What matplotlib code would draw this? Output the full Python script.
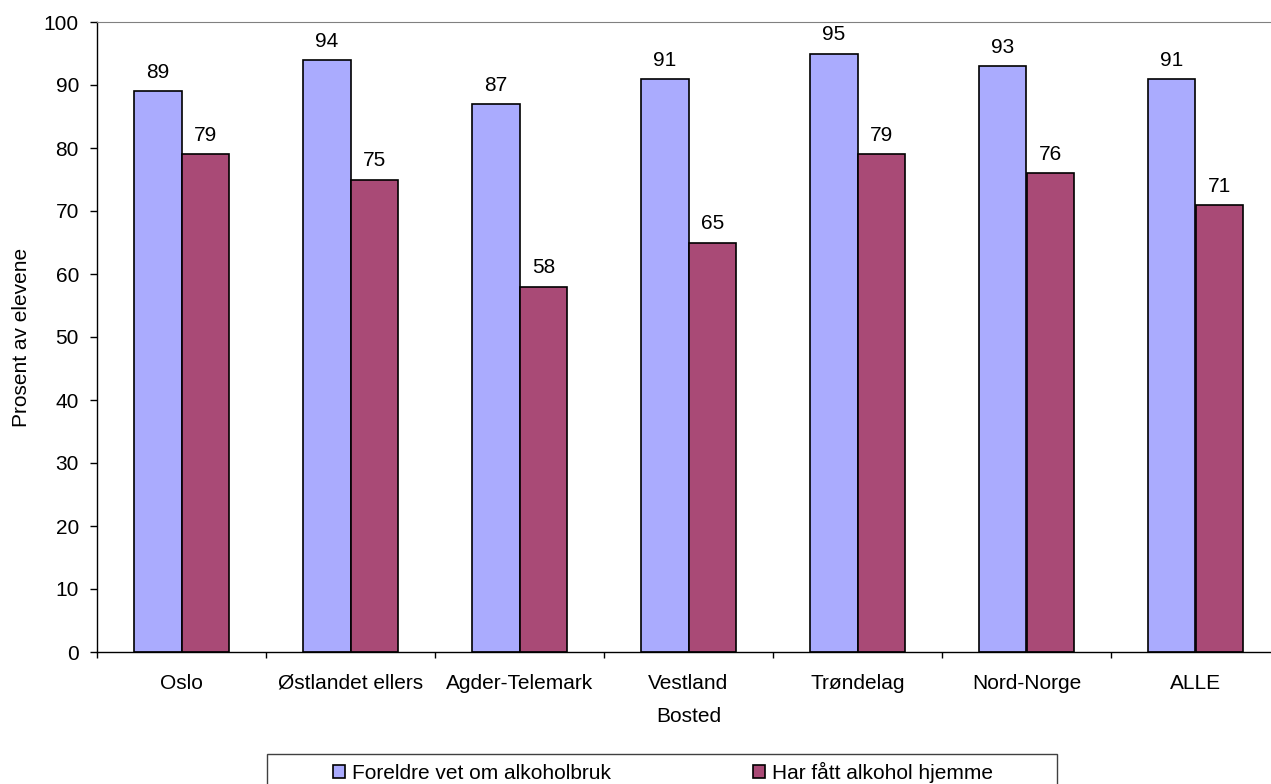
import matplotlib
matplotlib.use('Agg')
import matplotlib.pyplot as plt
import numpy as np
from matplotlib.patches import Rectangle

# data
categories = ['Oslo', 'Østlandet ellers', 'Agder-Telemark', 'Vestland', 'Trøndelag', 'Nord-Norge', 'ALLE']
foreldre_vet = [89, 94, 87, 91, 95, 93, 91]
fatt_hjemme = [79, 75, 58, 65, 79, 76, 71]
series_names = ['Foreldre vet om alkoholbruk', 'Har fått alkohol hjemme']
yticks = list(range(0, 101, 10))

plt.rcParams['font.family'] = ['Liberation Sans', 'DejaVu Sans']
plt.rcParams['font.size'] = 15

W, H = 1271, 784
fig = plt.figure(figsize=(W / 100, H / 100), dpi=100)
ax = fig.add_axes([97 / W, 1 - 652 / H, 1183 / W, 630 / H])

x = np.arange(len(categories))
bw = 0.284
b1 = ax.bar(x - bw / 2, foreldre_vet, bw, color='#AAABFE', edgecolor='black', linewidth=1.2, label=series_names[0])
b2 = ax.bar(x + bw / 2, fatt_hjemme, bw, color='#A94A76', edgecolor='black', linewidth=1.2, label=series_names[1])

for bars, vals in ((b1, foreldre_vet), (b2, fatt_hjemme)):
    for r, v in zip(bars, vals):
        ax.annotate(str(v), (r.get_x() + r.get_width() / 2, v), xytext=(0, 9.5),
                    textcoords='offset points', ha='center', va='baseline')

ax.set_xlim(-0.5, len(categories) - 0.5)
ax.set_ylim(0, 100)
ax.set_yticks(yticks)
ax.set_xticks(x)
ax.set_xticklabels(categories)
plt.setp(ax.get_xticklabels(), va='baseline')  # keep "Ø" on the same baseline as the rest
ax.set_xticks(np.arange(len(categories) + 1) - 0.5, minor=True)
ax.tick_params(axis='x', which='major', length=0, pad=26.6)
ax.tick_params(axis='x', which='minor', length=4.5, width=1, color='black', direction='out')
ax.tick_params(axis='y', length=5, width=1, pad=8)

ax.spines['top'].set_color('#808080')
ax.spines['right'].set_visible(False)
ax.spines['left'].set_linewidth(1)
ax.spines['bottom'].set_linewidth(1)

ax.set_xlabel('Bosted', va='top')
ax.xaxis.set_label_coords(0.5, -0.087)
ax.set_ylabel('Prosent av elevene', va='center')
ax.yaxis.set_label_coords(-0.064, 0.5)

# legend with an Excel-like wide frame
fig.legend(handles=[b1, b2], labels=series_names, loc='center', ncol=2, frameon=False,
           bbox_to_anchor=(663 / W, 1 - 772 / H), handlelength=0.58, handleheight=0.58,
           handletextpad=0.34, columnspacing=6.8)
fig.patches.append(Rectangle((267 / W, 1 - 792 / H), 790 / W, 38 / H, transform=fig.transFigure,
                             fill=False, edgecolor='#404040', linewidth=1))

fig.savefig('out.png', dpi=100)
